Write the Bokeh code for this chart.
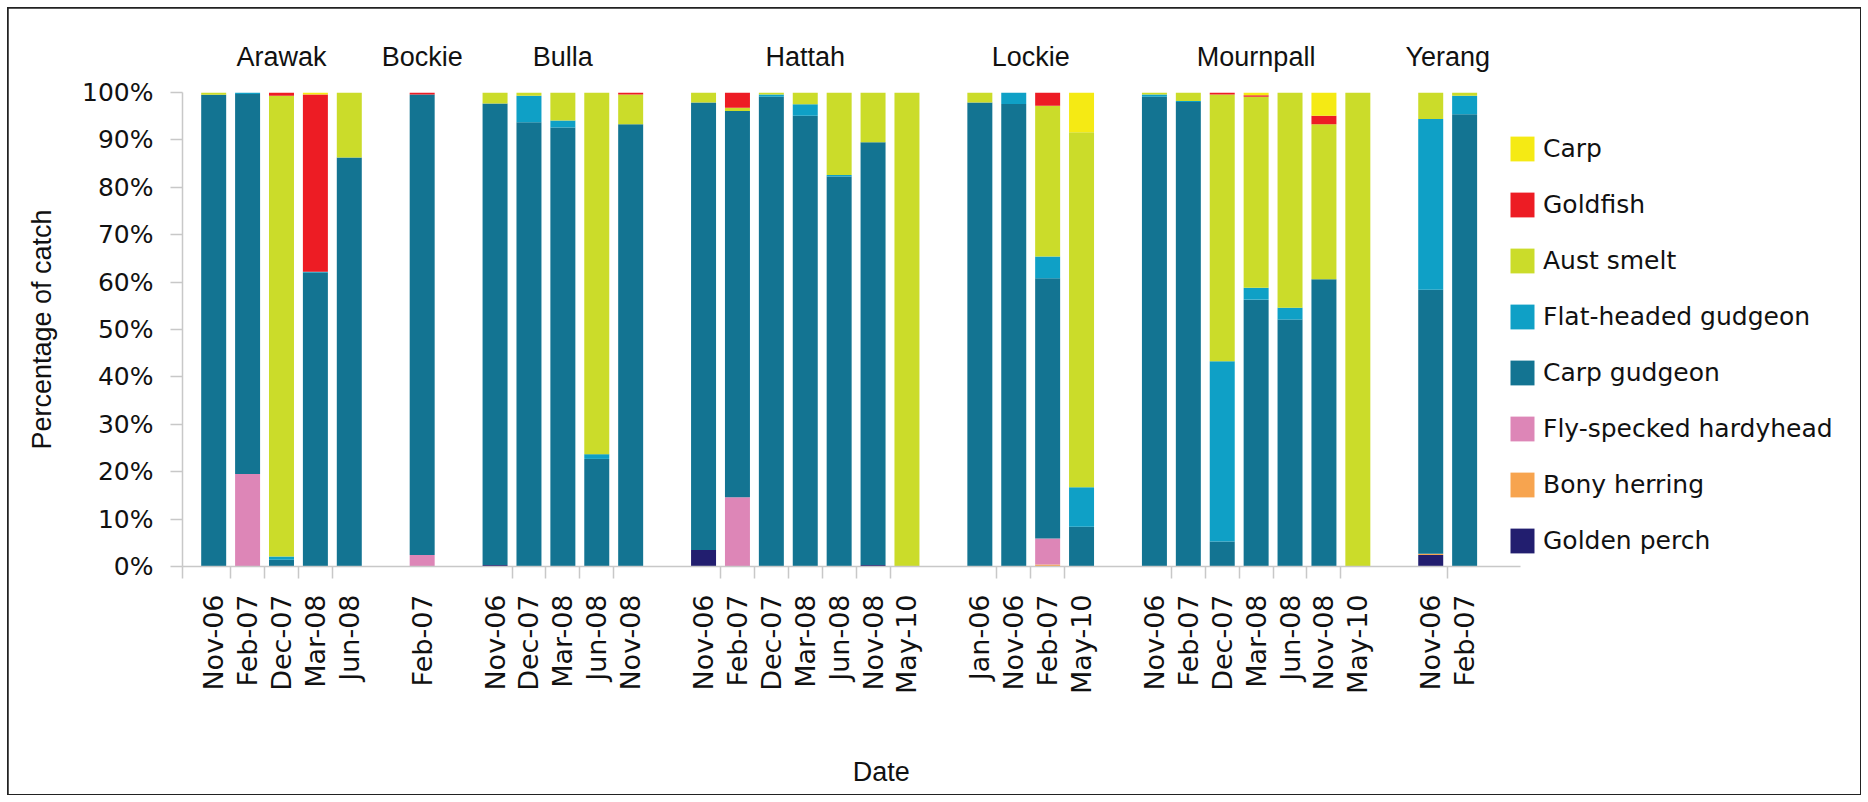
import math
from bokeh.plotting import figure
from bokeh.models import (Range1d, FixedTicker, PrintfTickFormatter, Legend, LegendItem,
                          ColumnDataSource, LinearAxis)
from bokeh.embed import file_html
from bokeh.resources import INLINE

# ---------------- data ----------------
groups = ["Arawak", "Bockie", "Bulla", "Hattah", "Lockie", "Mournpall", "Yerang"]
dates_arawak = ["Nov-06", "Feb-07", "Dec-07", "Mar-08", "Jun-08"]
dates_bockie = ["Feb-07"]
dates_bulla = ["Nov-06", "Dec-07", "Mar-08", "Jun-08", "Nov-08"]
dates_hattah = ["Nov-06", "Feb-07", "Dec-07", "Mar-08", "Jun-08", "Nov-08", "May-10"]
dates_lockie = ["Jan-06", "Nov-06", "Feb-07", "May-10"]
dates_mournpall = ["Nov-06", "Feb-07", "Dec-07", "Mar-08", "Jun-08", "Nov-08", "May-10"]
dates_yerang = ["Nov-06", "Feb-07"]
group_dates = [dates_arawak, dates_bockie, dates_bulla, dates_hattah,
               dates_lockie, dates_mournpall, dates_yerang]

# species, bottom of stack first
species = ["Golden perch", "Bony herring", "Fly-specked hardyhead", "Carp gudgeon",
           "Flat-headed gudgeon", "Aust smelt", "Goldfish", "Carp"]

golden_perch = [0, 0, 0, 0, 0, 0, 0.3, 0, 0, 0, 0, 3.5, 0, 0, 0, 0, 0.3, 0,
                0, 0, 0, 0, 0, 0, 0, 0, 0, 0, 0, 2.4, 0]
bony_herring = [0, 0, 0, 0, 0, 0, 0, 0, 0, 0, 0, 0, 0, 0, 0, 0, 0, 0,
                0, 0, 0.4, 0, 0, 0, 0, 0, 0, 0, 0, 0.3, 0]
fly_specked = [0, 19.5, 0, 0, 0, 2.4, 0, 0, 0, 0, 0, 0, 14.6, 0, 0, 0, 0, 0,
               0, 0, 5.5, 0, 0, 0, 0, 0, 0, 0, 0, 0, 0]
carp_gudgeon = [99.5, 80.2, 1.4, 62.0, 86.3, 97.2, 97.4, 93.7, 92.6, 22.7, 93.3,
                94.4, 81.5, 99.1, 95.1, 82.3, 89.2, 0, 97.9, 97.6, 54.9, 8.4,
                99.1, 98.0, 5.3, 56.3, 52.1, 60.6, 0, 55.7, 95.4]
flat_headed = [0, 0.3, 0.7, 0.2, 0, 0, 0, 5.6, 1.5, 1.0, 0, 0, 0, 0.5, 2.4, 0.3,
               0, 0, 0, 2.4, 4.6, 8.3, 0.5, 0.2, 38.0, 2.5, 2.5, 0, 0, 36.0, 3.9]
aust_smelt = [0.5, 0, 97.2, 0, 13.7, 0, 2.3, 0.7, 5.9, 76.3, 6.3, 2.1, 0.7, 0.4,
              2.5, 17.4, 10.5, 100, 2.1, 0, 31.8, 74.9, 0.4, 1.8, 56.3, 40.3,
              45.4, 32.7, 100, 5.6, 0.7]
goldfish = [0, 0, 0.7, 37.4, 0, 0.4, 0, 0, 0, 0, 0.4, 0, 3.2, 0, 0, 0, 0, 0,
            0, 0, 2.8, 0, 0, 0, 0.4, 0.3, 0, 1.8, 0, 0, 0]
carp = [0, 0, 0, 0.4, 0, 0, 0, 0, 0, 0, 0, 0, 0, 0, 0, 0, 0, 0,
        0, 0, 0, 8.4, 0, 0, 0, 0.6, 0, 4.9, 0, 0, 0]
series = [golden_perch, bony_herring, fly_specked, carp_gudgeon,
          flat_headed, aust_smelt, goldfish, carp]

colors = ["#221e6f", "#f7a44f", "#dd86b7", "#137492",
          "#0fa0c6", "#cbdc2a", "#ed1c24", "#f5ea14"]

y_ticks = [0, 10, 20, 30, 40, 50, 60, 70, 80, 90, 100]

# ---------------- layout of categories ----------------
GROUP_GAP = 1.15
x_pos, labels, group_center, boundaries = [], [], [], []
k = 0
for g, ds in enumerate(group_dates):
    xs = []
    for d in ds:
        xs.append(k + g * GROUP_GAP)
        labels.append(d)
        k += 1
    x_pos.extend(xs)
    group_center.append((xs[0] + xs[-1]) / 2)
    boundaries.extend((a + b) / 2 for a, b in zip(xs[:-1], xs[1:]))

x_start = x_pos[0] - 0.92
x_end = x_pos[-1] + 1.66          # end of the drawn x axis line
AXIS_PX = 1338.4                  # length of the x axis line in pixels
FRAME_PX = 1673                   # frame width (includes legend area)
x_far = x_start + (x_end - x_start) * FRAME_PX / AXIS_PX
# horizontal place of the "Date" title (pixels from the left end of the axis)
x_title = x_start + 698.7 * (x_end - x_start) / AXIS_PX

data = {"x": x_pos}
keys = []
for i, vals in enumerate(series):
    key = "s%d" % i
    keys.append(key)
    data[key] = vals
src = ColumnDataSource(data)

AX = "#c8c8c8"
TXT = "#111111"

p = figure(width=1852, height=786, x_range=Range1d(x_start, x_far),
           y_range=Range1d(0, 100), output_backend="svg", toolbar_location=None,
           min_border_left=174, min_border_right=1852 - 174 - FRAME_PX,
           min_border_top=84, min_border_bottom=228, margin=(8, 0, 0, 8),
           styles={"outline": "2px solid #222222", "outline-offset": "-1px"})
p.outline_line_color = None
p.xgrid.visible = False
p.ygrid.visible = False

rs = p.vbar_stack(keys, x="x", width=0.737, color=colors, source=src, line_color=None)

# y axis
ya = p.yaxis[0]
ya.ticker = FixedTicker(ticks=y_ticks)
ya.formatter = PrintfTickFormatter(format="%d%%")
ya.bounds = (0, 100)
ya.axis_line_color = AX
ya.axis_line_width = 1.5
ya.major_tick_line_color = AX
ya.major_tick_line_width = 1.5
ya.major_tick_out = 12
ya.major_tick_in = 0
ya.minor_tick_line_color = None
ya.major_label_standoff = 17
ya.major_label_text_font = "DejaVu Sans"
ya.major_label_text_font_size = "25px"
ya.major_label_text_color = TXT
ya.axis_label = "Percentage of catch"
ya.axis_label_text_font = "Liberation Sans"
ya.axis_label_text_font_size = "27px"
ya.axis_label_text_font_style = "normal"
ya.axis_label_text_color = TXT
ya.axis_label_standoff = 22

# x axis (dates)
xa = p.xaxis[0]
xa.bounds = (x_start, x_end)
xa.ticker = FixedTicker(ticks=x_pos, minor_ticks=[x_start] + boundaries)
xa.major_label_overrides = {x: lab for x, lab in zip(x_pos, labels)}
xa.axis_line_color = AX
xa.axis_line_width = 1.5
xa.major_tick_line_color = None
xa.major_tick_out = 0
xa.major_tick_in = 0
xa.minor_tick_line_color = AX
xa.minor_tick_line_width = 1.5
xa.minor_tick_out = 12
xa.minor_tick_in = 0
xa.major_label_orientation = math.pi / 2
xa.major_label_standoff = 16
xa.major_label_text_font = "DejaVu Sans"
xa.major_label_text_font_size = "27px"
xa.major_label_text_color = TXT

# x axis title "Date" as a label-only axis stacked below the date axis
da = LinearAxis(ticker=FixedTicker(ticks=[x_title], minor_ticks=[]),
                major_label_overrides={x_title: "Date"})
da.axis_line_color = None
da.major_tick_line_color = None
da.minor_tick_line_color = None
da.major_tick_out = 0
da.major_tick_in = 0
da.major_label_standoff = 60
da.major_label_text_font = "Liberation Sans"
da.major_label_text_font_size = "27px"
da.major_label_text_color = TXT
p.add_layout(da, "below")

# group names above the bars (axis on top)
ta = LinearAxis(ticker=FixedTicker(ticks=group_center, minor_ticks=[]),
                major_label_overrides={x: g for x, g in zip(group_center, groups)})
ta.axis_line_color = None
ta.major_tick_line_color = None
ta.minor_tick_line_color = None
ta.major_tick_out = 0
ta.major_tick_in = 0
ta.major_label_standoff = 21
ta.major_label_text_font = "Liberation Sans"
ta.major_label_text_font_size = "27px"
ta.major_label_text_color = TXT
p.add_layout(ta, "above")

# legend (Carp on top), inside the frame to the right of the bars
items = [LegendItem(label=species[i], renderers=[rs[i]]) for i in reversed(range(len(species)))]
legend = Legend(items=items, location=(1325, 10), orientation="vertical",
                glyph_width=30, glyph_height=31, label_height=25, label_standoff=6,
                spacing=25, padding=0, margin=0, border_line_color=None,
                background_fill_alpha=0, label_text_font="DejaVu Sans",
                label_text_font_size="25px", label_text_color=TXT)
p.add_layout(legend, "center")

open("out.html", "w").write(file_html(p, INLINE))
